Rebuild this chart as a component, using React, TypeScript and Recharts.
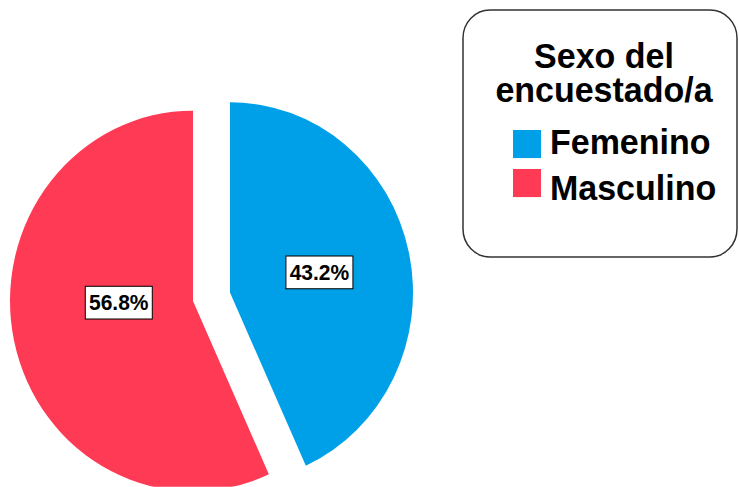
import React from 'react';
import { PieChart, Pie, Cell, Legend } from 'recharts';

const categories = ['Femenino', 'Masculino'];
const percentages = [43.2, 56.8];
const colors = ['#00A0E9', '#FF3A55'];
const legendTitle = ['Sexo del', 'encuestado/a'];

const data = categories.map((name, i) => ({ name, value: percentages[i] }));

const S = 1.04;
const W = 739;
const H = Math.round(487 / S);
const R = 183;
const FONT = '"Liberation Sans", Arial, Helvetica, sans-serif';
const RAD = Math.PI / 180;

const pieCenters = [
  { cx: 230, cy: 281.3 },
  { cx: 193, cy: 289.4 },
];
const labelNudge = [0, -14.5];
const labelRadius = [0.5, 0.415];

const makeLabel = (visible: number) => (props: any) => {
  const { cx, cy, midAngle, outerRadius, percent, index } = props;
  if (index !== visible) return null;
  const r = outerRadius * labelRadius[visible];
  const x = cx + r * Math.cos(-midAngle * RAD);
  const y = cy + r * Math.sin(-midAngle * RAD) + labelNudge[visible];
  const txt = (percent * 100).toFixed(1) + '%';
  const bw = 67;
  const bh = 31.5;
  return (
    <g>
      <rect x={x - bw / 2} y={y - bh / 2} width={bw} height={bh} fill="#fff" stroke="#000" strokeWidth={1} />
      <text x={x} y={y + 7.5} textAnchor="middle" fontFamily={FONT} fontWeight="bold" fontSize={21} fill="#000">
        {txt}
      </text>
    </g>
  );
};

const LegendBox = () => (
  <svg width={W} height={H} style={{ position: 'absolute', left: 0, top: 0, overflow: 'visible' }}>
    <rect x={463} y={9.6} width={274} height={237.5} rx={27} ry={27} fill="#fff" stroke="#333" strokeWidth={1.5} />
    {legendTitle.map((t, i) => (
      <text key={t} x={604} y={65.4 + i * 32.7} textAnchor="middle" fontFamily={FONT} fontWeight="bold" fontSize={34} fill="#000">
        {t}
      </text>
    ))}
    {categories.map((c, i) => (
      <g key={c}>
        <rect x={513} y={125 + i * 37.5} width={28} height={27} fill={colors[i]} />
        <text x={550} y={148.1 + i * 44.2} fontFamily={FONT} fontWeight="bold" fontSize={34} fill="#000">
          {c}
        </text>
      </g>
    ))}
  </svg>
);

export default function App() {
  return (
    <div style={{ position: 'absolute', left: 0, top: 0, width: W, height: H, transform: `scaleY(${S})`, transformOrigin: '0 0', background: '#fff' }}>
      <PieChart width={W} height={H} margin={{ top: 0, right: 0, bottom: 0, left: 0 }}>
        {[1, 0].map((vis) => (
          <Pie
            key={vis}
            data={data}
            dataKey="value"
            nameKey="name"
            cx={pieCenters[vis].cx}
            cy={pieCenters[vis].cy}
            outerRadius={R}
            startAngle={90}
            endAngle={-270}
            stroke="none"
            label={makeLabel(vis)}
            labelLine={false}
            isAnimationActive={false}
            legendType="none"
          >
            {data.map((d, i) => (
              <Cell key={d.name} fill={i === vis ? colors[i] : 'transparent'} stroke="none" />
            ))}
          </Pie>
        ))}
        <Legend content={() => <LegendBox />} wrapperStyle={{ position: 'absolute', left: 0, top: 0, width: W, height: H }} />
      </PieChart>
    </div>
  );
}
